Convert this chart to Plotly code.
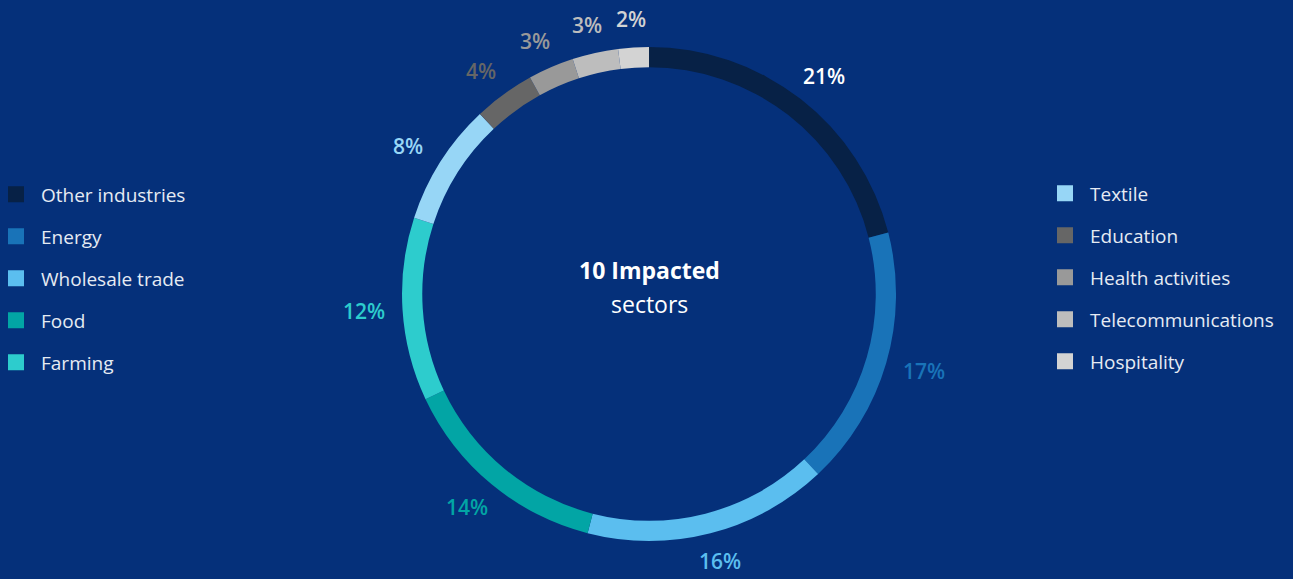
import math
import plotly.graph_objects as go

sectors = ["Other industries", "Energy", "Wholesale trade", "Food", "Farming",
           "Textile", "Education", "Health activities", "Telecommunications", "Hospitality"]
shares = [21, 17, 16, 14, 12, 8, 4, 3, 3, 2]
colors = ["#072146", "#1973B8", "#5BBEEF", "#02A5A5", "#2DCCCD",
          "#97D6F6", "#666666", "#999999", "#BDBDBD", "#D3D3D3"]
label_colors = ["#FFFFFF", "#1973B8", "#5BBEEF", "#02A5A5", "#2DCCCD",
                "#97D6F6", "#666666", "#999999", "#BDBDBD", "#D3D3D3"]
left_legend = sectors[:5]
right_legend = sectors[5:]

BG = "#05307A"
W, H = 1293, 579
dom_x = [0.3109, 0.6930]
dom_y = [0.0656, 0.9188]

fig = go.Figure()
fig.add_trace(go.Pie(
    labels=sectors, values=shares, sort=False, direction="clockwise", rotation=0,
    hole=0.918, marker=dict(colors=colors, line=dict(width=0)),
    textinfo="none", hoverinfo="label+percent", showlegend=False,
    domain=dict(x=dom_x, y=dom_y),
))

# legend proxies
for name, col in zip(sectors, colors):
    leg = "legend" if name in left_legend else "legend2"
    fig.add_trace(go.Scatter(
        x=[None], y=[None], mode="markers", name=name, legend=leg,
        legendgroup=name,
        marker=dict(symbol="square", size=17, color=col, line=dict(width=0)),
    ))

# percentage labels placed around the ring at slice mid-angles
cx = sum(dom_x) / 2
cy = sum(dom_y) / 2
rx_lab, ry_lab = 286, 276
total = sum(shares)
cum = 0
for v, col in zip(shares, label_colors):
    mid = (cum + v / 2) / total * 2 * math.pi
    cum += v
    fig.add_annotation(
        x=cx + rx_lab * math.sin(mid) / W, y=cy + ry_lab * math.cos(mid) / H,
        xref="paper", yref="paper", text=f"{v}%", showarrow=False,
        font=dict(family="Open Sans", size=21, color=col, weight=600),
        xanchor="center", yanchor="middle",
    )

fig.add_annotation(x=cx, y=1 - 270 / H, xref="paper", yref="paper",
                   text="<b>10 Impacted</b>", showarrow=False,
                   font=dict(family="Open Sans", size=23, color="#FFFFFF"))
fig.add_annotation(x=cx, y=1 - 304 / H, xref="paper", yref="paper",
                   text="sectors", showarrow=False,
                   font=dict(family="Open Sans", size=23, color="#FFFFFF"))

legend_font = dict(family="Open Sans", size=19, color="#E6EBF3")
fig.update_layout(
    width=W, height=H, margin=dict(l=0, r=0, t=0, b=0, autoexpand=False),
    paper_bgcolor=BG, plot_bgcolor=BG,
    xaxis=dict(visible=False), yaxis=dict(visible=False),
    legend=dict(x=-9 / W, y=1 - 278.5 / H, xanchor="left", yanchor="middle",
                font=legend_font, tracegroupgap=14.3, bgcolor="rgba(0,0,0,0)",
                itemsizing="trace", itemwidth=40),
    legend2=dict(x=1040 / W, y=1 - 277.5 / H, xanchor="left", yanchor="middle",
                 font=legend_font, tracegroupgap=14.3, bgcolor="rgba(0,0,0,0)",
                 itemsizing="trace", itemwidth=40),
)

fig.write_html("out.html")
